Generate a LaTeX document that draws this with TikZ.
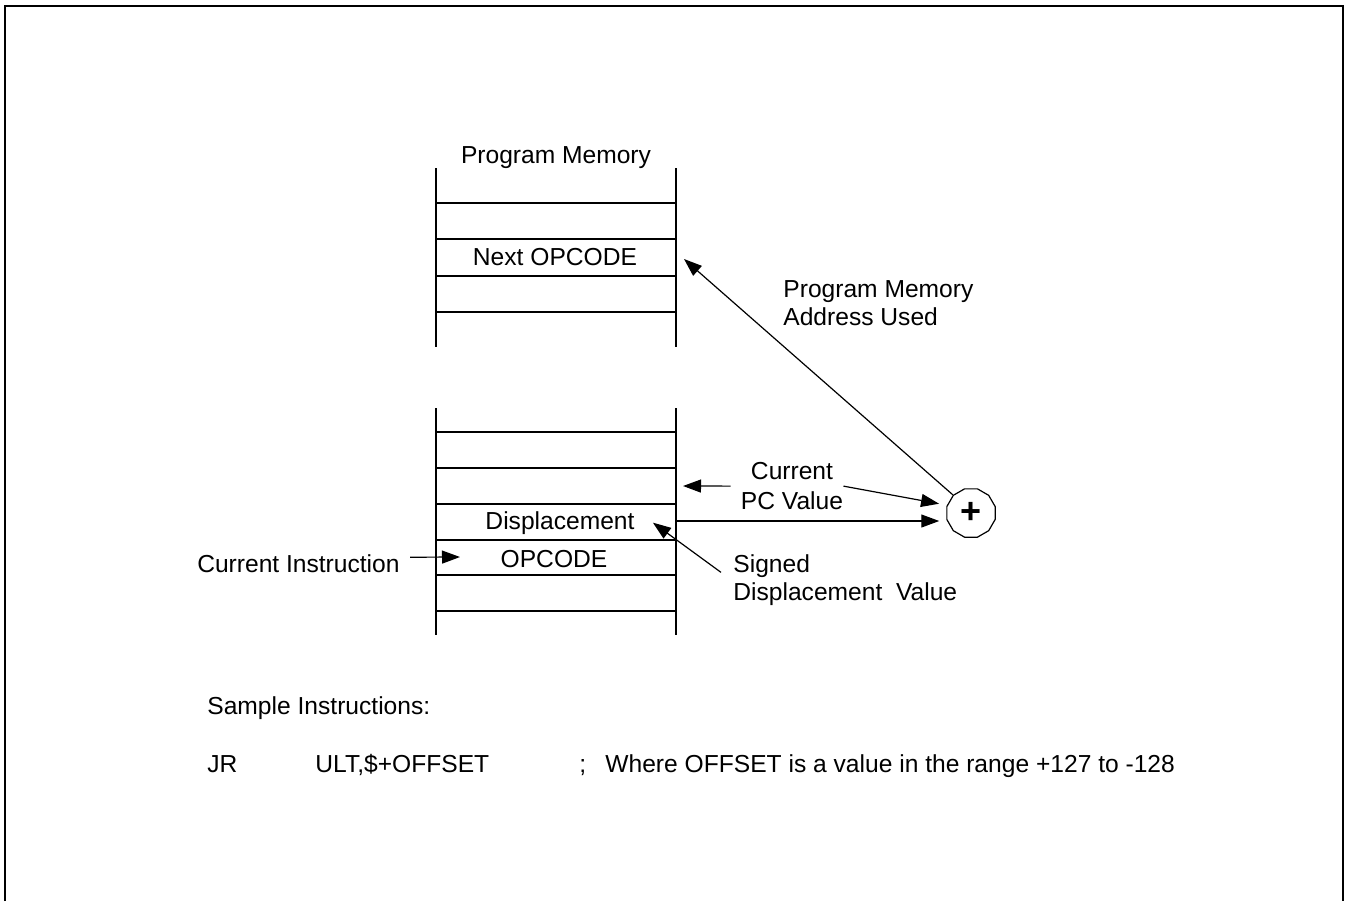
\documentclass[tikz,border=0pt]{standalone}
\usepackage{fontspec}
\setmainfont{Liberation Sans}
\usetikzlibrary{arrows.meta,shapes.geometric}

\begin{document}
\begin{tikzpicture}[
x=0.5pt, y=-0.5pt,
lbl/.style={inner sep=0pt, font=\fontsize{12.3}{14}\selectfont},
arr/.style={-{Triangle[length=9pt,width=6.5pt]}, line width=0.6pt},
cell/.style={line width=0.75pt},
adder/.style={regular polygon, regular polygon sides=12, draw, line width=0.6pt, minimum size=25pt, inner sep=0pt}
]

\useasboundingbox (0,0) rectangle (1350,901);
\draw[line width=1.35pt] (5,901) -- (5,6) -- (1343,6) -- (1343,901);

% upper memory block
\draw[cell] (436,168) -- (436,347);
\draw[cell] (676,168) -- (676,347);
\foreach \y in {203,239,276,312}
  \draw[cell] (436,\y) -- (676,\y);

% lower memory block
\draw[cell] (436,408) -- (436,635);
\draw[cell] (676,408) -- (676,635);
\foreach \y in {432,468,504,540,575,611}
  \draw[cell] (436,\y) -- (676,\y);

\node[lbl, anchor=base] (title) at (556,163) {Program Memory};
\node[lbl, anchor=base] (nextop) at (555,265) {Next OPCODE};
\node[lbl, anchor=base] (disp) at (560,529) {Displacement};
\node[lbl, anchor=base] (opcode) at (554,567) {OPCODE};
\node[lbl, anchor=base east] (curinst) at (400,572) {Current Instruction};

\node[lbl, align=center, anchor=north, font=\fontsize{12.3}{15}\selectfont] (curpc) at (792,462) {Current\\PC Value};
\node[lbl, align=left, anchor=north west] (addrused) at (783,280) {Program Memory\\Address Used};
\node[lbl, align=left, anchor=north west] (signed) at (733,554) {Signed\\Displacement~ Value};

\node[adder] (add) at (971,513) {\fontsize{18}{18}\selectfont\bfseries +};

\coordinate (nexthit) at (684,259);
\coordinate (pcin) at (683,486);
\coordinate (dispout) at (676,521);
\coordinate (insthit) at (460,557);

\draw[arr] (add.135) -- (nexthit);
\draw[arr] ([xshift=-5pt]curpc.west) -- (pcin);
\draw[arr, shorten >=4pt] (curpc.east) -- (add.162);
\draw[arr, shorten >=3.5pt] (dispout) -- (dispout -| add.west);
\draw[arr] ([xshift=-6pt,yshift=3.75pt]signed.west) -- ([xshift=9pt]disp.east);
\draw[arr] ([xshift=5pt,yshift=3pt]curinst.east) -- (insthit);

\node[lbl, anchor=base west] (sample) at (207,714) {Sample Instructions:};
\node[lbl, anchor=base west] (jr) at (207,772) {JR};
\node[lbl, anchor=base west] (operand) at (315,772) {ULT,\$+OFFSET};
\node[lbl, anchor=base west] (semi) at (579,772) {;};
\node[lbl, anchor=base west] (remark) at (605,772) {Where OFFSET is a value in the range +127 to -128};

\end{tikzpicture}
\end{document}
